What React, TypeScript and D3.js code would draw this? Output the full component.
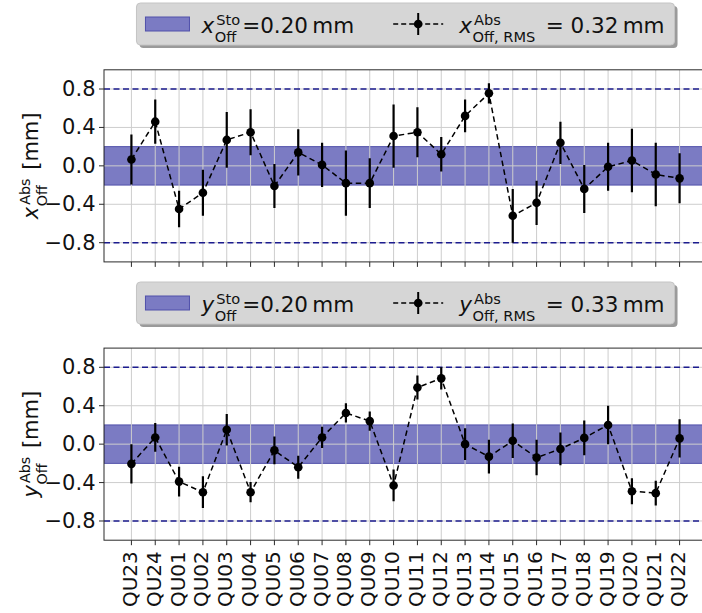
import React from 'react';
import * as d3 from 'd3';

const FONT = '"DejaVu Sans", "Liberation Sans", sans-serif';

// Quadrupole magnets in beamline order
const categories = [
  'QU23', 'QU24', 'QU01', 'QU02', 'QU03', 'QU04', 'QU05', 'QU06', 'QU07', 'QU08', 'QU09', 'QU10',
  'QU11', 'QU12', 'QU13', 'QU14', 'QU15', 'QU16', 'QU17', 'QU18', 'QU19', 'QU20', 'QU21', 'QU22',
];

// Absolute horizontal offsets [mm] and their uncertainties
const xOffsets = [
  0.066, 0.46, -0.45, -0.28, 0.27, 0.35, -0.21, 0.14, 0.01, -0.18, -0.18, 0.31,
  0.35, 0.12, 0.52, 0.755, -0.52, -0.385, 0.24, -0.24, -0.01, 0.055, -0.09, -0.13,
];
const xErrors = [
  0.26, 0.23, 0.19, 0.24, 0.29, 0.24, 0.23, 0.24, 0.23, 0.34, 0.26, 0.33,
  0.26, 0.18, 0.17, 0.105, 0.28, 0.23, 0.22, 0.25, 0.25, 0.33, 0.33, 0.26,
];

// Absolute vertical offsets [mm] and their uncertainties
const yOffsets = [
  -0.205, 0.07, -0.39, -0.5, 0.15, -0.5, -0.065, -0.24, 0.07, 0.325, 0.24, -0.43,
  0.59, 0.685, 0.0, -0.13, 0.035, -0.14, -0.05, 0.065, 0.2, -0.49, -0.51, 0.06,
];
const yErrors = [
  0.205, 0.15, 0.155, 0.165, 0.165, 0.105, 0.145, 0.12, 0.11, 0.1, 0.1, 0.165,
  0.125, 0.115, 0.165, 0.175, 0.18, 0.185, 0.17, 0.18, 0.2, 0.135, 0.13, 0.2,
];

const yTicks = [-0.8, -0.4, 0.0, 0.4, 0.8];
const stoTolerance = 0.2;
const limitLines = [-0.8, 0.8];
const rmsValues = [0.32, 0.33];
const axisNames = ['x', 'y'];

const BAND_FILL = 'rgb(123,123,195)';
const BAND_EDGE = 'rgb(80,80,170)';
const NAVY = '#1c1c8f';

let measureCtx: CanvasRenderingContext2D | null = null;
function textWidth(s: string, size: number, italic = false): number {
  if (!measureCtx) measureCtx = document.createElement('canvas').getContext('2d');
  if (!measureCtx) return s.length * size * 0.6;
  measureCtx.font = `${italic ? 'italic ' : ''}${size}px ${FONT}`;
  return measureCtx.measureText(s).width;
}

const SCRIPT = 0.68;
const SCRIPT_SPACE = 2.5;
const SUP_RISE = 0.36;
const SUB_DROP = 0.46;

function mathWidth(base: string, sup: string, sub: string, tail: string, size: number) {
  const small = size * SCRIPT;
  return (
    textWidth(base, size, true) + 1.5 +
    Math.max(textWidth(sup, small), textWidth(sub, small)) + SCRIPT_SPACE +
    textWidth(tail, size)
  );
}

// Italic symbol with stacked super- and subscript, followed by plain text
function MathText(props: {
  base: string; sup: string; sub: string; tail: string; size: number;
  x?: number; y?: number; anchor?: 'start' | 'middle';
}) {
  const { base, sup, sub, tail, size, x = 0, y = 0, anchor = 'start' } = props;
  const small = size * SCRIPT;
  const wb = textWidth(base, size, true);
  const ws = Math.max(textWidth(sup, small), textWidth(sub, small));
  const total = mathWidth(base, sup, sub, tail, size);
  const x0 = anchor === 'middle' ? x - total / 2 : x;
  return (
    <text fontFamily={FONT} fill="#111" fontSize={size}>
      <tspan x={x0} y={y} fontStyle="italic">{base}</tspan>
      <tspan x={x0 + wb + 2} y={y - size * SUP_RISE} fontSize={small}>{sup}</tspan>
      <tspan x={x0 + wb + 0.5} y={y + size * SUB_DROP} fontSize={small}>{sub}</tspan>
      <tspan x={x0 + wb + 1.5 + ws + SCRIPT_SPACE} y={y}>{tail}</tspan>
    </text>
  );
}

const X_RANGE: [number, number] = [104, 707];
const PLOT_H = 192.1;
const FS = 21;
const LEGEND_FS = 21.5;

function Legend(props: { name: string; rms: number; top: number }) {
  const { name, rms, top } = props;
  const tail1 = `=${stoTolerance.toFixed(2)}\u2009mm`;
  const tail2 = `\u00a0=\u00a0${rms.toFixed(2)}\u2009mm`;
  const w1 = mathWidth(name, 'Sto', 'Off', tail1, LEGEND_FS);
  const w2 = mathWidth(name, 'Abs', 'Off, RMS', tail2, LEGEND_FS);
  const padL = 9, h1 = 44, tp1 = 12, col = 39, h2 = 50, tp2 = 16, padR = 10;
  const width = padL + h1 + tp1 + w1 + col + h2 + tp2 + w2 + padR;
  const cx = (X_RANGE[0] + X_RANGE[1]) / 2;
  const left = cx - width / 2;
  const height = 42;
  const mid = top + 21;
  const baseline = top + 29.5;
  const h1x = left + padL;
  const t1x = h1x + h1 + tp1;
  const h2x = t1x + w1 + col;
  const t2x = h2x + h2 + tp2;
  return (
    <g>
      <rect x={left + 3} y={top + 3} width={width} height={height} rx={4} fill="#9a9a9a" />
      <rect x={left} y={top} width={width} height={height} rx={4} fill="#d6d6d6" stroke="#c4c4c4" />
      <rect x={h1x} y={mid - 7} width={h1} height={14} fill={BAND_FILL} stroke={BAND_EDGE} strokeWidth={1} />
      <MathText base={name} sup="Sto" sub="Off" tail={tail1} size={LEGEND_FS} x={t1x} y={baseline} />
      <line x1={h2x} x2={h2x + h2} y1={mid} y2={mid} stroke="#000" strokeWidth={1.5} strokeDasharray="5,3" />
      <line x1={h2x + h2 / 2} x2={h2x + h2 / 2} y1={mid - 11} y2={mid + 11} stroke="#000" strokeWidth={2} />
      <circle cx={h2x + h2 / 2} cy={mid} r={4.3} fill="#000" />
      <MathText base={name} sup="Abs" sub="Off, RMS" tail={tail2} size={LEGEND_FS} x={t2x} y={baseline} />
    </g>
  );
}

function Panel(props: {
  name: string; values: number[]; errors: number[]; rms: number;
  top: number; legendTop: number; showLabels: boolean;
}) {
  const { name, values, errors, rms, top, legendTop, showLabels } = props;
  const x = d3.scaleLinear().domain([-1.15, 24.15]).range(X_RANGE);
  const y = d3.scaleLinear().domain([-1, 1]).range([top + PLOT_H, top]);
  const bottom = top + PLOT_H;
  const line = d3.line<number>().x((_, i) => x(i)).y((d) => y(d));
  const fmt = d3.format('.1f');
  const clipId = `clip-${name}`;
  return (
    <g>
      <defs>
        <clipPath id={clipId}>
          <rect x={X_RANGE[0]} y={top} width={X_RANGE[1] - X_RANGE[0]} height={PLOT_H} />
        </clipPath>
      </defs>
      <Legend name={name} rms={rms} top={legendTop} />
      <g clipPath={`url(#${clipId})`}>
        <rect
          x={X_RANGE[0]} width={X_RANGE[1] - X_RANGE[0]}
          y={y(stoTolerance)} height={y(-stoTolerance) - y(stoTolerance)}
          fill={BAND_FILL} stroke={BAND_EDGE} strokeWidth={1}
        />
        {categories.map((c, i) => (
          <line key={c} x1={x(i)} x2={x(i)} y1={top} y2={bottom} stroke="#cdcdcd" strokeWidth={1} />
        ))}
        {yTicks.map((t) => (
          <line key={t} x1={X_RANGE[0]} x2={X_RANGE[1]} y1={y(t)} y2={y(t)} stroke="#cdcdcd" strokeWidth={1} />
        ))}
        {limitLines.map((v) => (
          <line key={v} x1={X_RANGE[0]} x2={X_RANGE[1]} y1={y(v)} y2={y(v)}
            stroke={NAVY} strokeWidth={1.5} strokeDasharray="6,3.5" />
        ))}
        <path d={line(values) || ''} fill="none" stroke="#000" strokeWidth={1.5} strokeDasharray="5.5,3.5" />
        {values.map((v, i) => (
          <line key={i} x1={x(i)} x2={x(i)} y1={y(v + errors[i])} y2={y(v - errors[i])}
            stroke="#000" strokeWidth={2.2} />
        ))}
        {values.map((v, i) => (
          <circle key={i} cx={x(i)} cy={y(v)} r={4.3} fill="#000" />
        ))}
      </g>
      {/* frame */}
      <rect x={X_RANGE[0]} y={top} width={X_RANGE[1] - X_RANGE[0]} height={PLOT_H}
        fill="none" stroke="#2a2a2a" strokeWidth={1} />
      {/* y axis */}
      {yTicks.map((t) => (
        <g key={t}>
          <line x1={X_RANGE[0] - 5} x2={X_RANGE[0]} y1={y(t)} y2={y(t)} stroke="#2a2a2a" strokeWidth={1} />
          <text x={X_RANGE[0] - 8.5} y={y(t)} textAnchor="end" dominantBaseline="central"
            fontFamily={FONT} fontSize={FS} fill="#111">{fmt(t)}</text>
        </g>
      ))}
      <g transform={`translate(37.5,${top + PLOT_H / 2}) rotate(-90)`}>
        <MathText base={name} sup="Abs" sub="Off" tail={'\u00a0[mm]'} size={FS} anchor="middle" />
      </g>
      {/* x axis */}
      {categories.map((c, i) => (
        <g key={c}>
          <line x1={x(i)} x2={x(i)} y1={bottom} y2={bottom + 5} stroke="#2a2a2a" strokeWidth={1} />
          {showLabels && (
            <text transform={`translate(${x(i) - 1.5},${bottom + 11}) rotate(-90)`} textAnchor="end"
              dominantBaseline="central" fontFamily={FONT} fontSize={20} fill="#111">{c}</text>
          )}
        </g>
      ))}
    </g>
  );
}

export default function App() {
  return (
    <svg width={702} height={613} style={{ position: 'absolute', left: 0, top: 0, background: '#fff' }}>
      <Panel name={axisNames[0]} values={xOffsets} errors={xErrors} rms={rmsValues[0]}
        top={69.8} legendTop={3} showLabels={false} />
      <Panel name={axisNames[1]} values={yOffsets} errors={yErrors} rms={rmsValues[1]}
        top={348.1} legendTop={282} showLabels={true} />
    </svg>
  );
}
